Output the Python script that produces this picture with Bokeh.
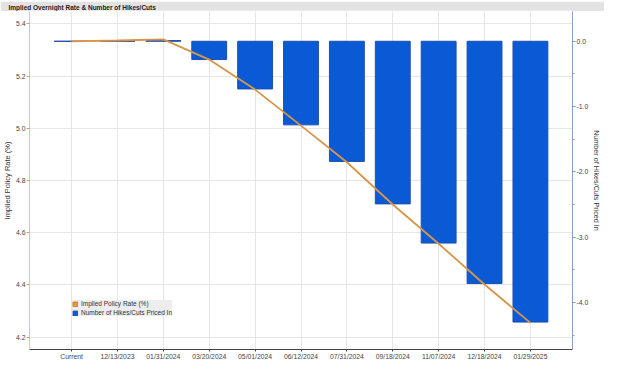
import numpy as np
from bokeh.plotting import figure
from bokeh.models import (Range1d, LinearAxis, FixedTicker, SingleIntervalTicker,
                          PrintfTickFormatter, Legend, LegendItem, ColumnDataSource)
from bokeh.layouts import column
from bokeh.embed import file_html
from bokeh.resources import INLINE

# ---------------- data ----------------
title_text = "Implied Overnight Rate & Number of Hikes/Cuts"
meetings = ["Current", "12/13/2023", "01/31/2024", "03/20/2024", "05/01/2024", "06/12/2024",
            "07/31/2024", "09/18/2024", "11/07/2024", "12/18/2024", "01/29/2025"]
implied_rate = [5.333, 5.336, 5.340, 5.263, 5.148, 5.010, 4.870, 4.708, 4.558, 4.402, 4.255]
hikes_cuts = [0.0, 0.0, 0.01, -0.28, -0.73, -1.28, -1.84, -2.49, -3.09, -3.71, -4.30]
rate_ticks = [4.2, 4.4, 4.6, 4.8, 5.0, 5.2, 5.4]
hike_ticks = [0.0, -1.0, -2.0, -3.0, -4.0]
rate_label = "Implied Policy Rate (%)"
hikes_label = "Number of Hikes/Cuts Priced In"

# ---------------- styles ----------------
FONT = "Liberation Sans"
ORANGE = "#e99a3c"
BLUE = "#0a5ad6"
BLUE_EDGE = "#1d4fae"
GRID = "#e6e6e6"
BAND = "#e3e3e3"

n = len(meetings)
xs = list(range(n))
rate_lo, rate_hi = 4.153, 5.447
anchor = implied_rate[0]

src = ColumnDataSource(dict(x=xs, rate=implied_rate, hikes=hikes_cuts))

# title band
band = figure(width=604, height=11, output_backend="svg", toolbar_location=None,
              title=title_text, x_axis_type=None, y_axis_type=None, min_border=0,
              background_fill_color=BAND, border_fill_color=BAND, outline_line_color=None)
band.x_range = Range1d(0, 1)
band.y_range = Range1d(0, 1)
band.title.align = "left"
band.title.offset = -21
band.title.standoff = 0
band.title.text_font = FONT
band.title.text_font_size = "6.5px"
band.title.text_font_style = "bold"
band.title.text_color = "#222222"

# main plot
p = figure(width=604, height=351, output_backend="svg", toolbar_location=None,
           x_range=Range1d(-0.917, n - 1 + 0.917), y_range=Range1d(rate_lo, rate_hi),
           min_border_left=23, min_border_right=28, min_border_top=0, min_border_bottom=11,
           background_fill_color="white", border_fill_color="white")
p.outline_line_color = None
p.extra_y_ranges = {"hikes": Range1d((rate_lo - anchor) * 4, (rate_hi - anchor) * 4)}

bars = p.vbar(x="x", top="hikes", bottom=0, width=0.76, source=src, y_range_name="hikes",
              fill_color=BLUE, line_color=BLUE_EDGE, line_width=1)
p.line("x", "rate", source=src, line_color=ORANGE, line_width=1.8)
p.line("x", "rate", source=src, line_color="#a08a74", line_width=0.6, line_alpha=0.8)

dummy = p.vbar(x=np.array([np.nan]), top=np.array([np.nan]), width=0.5,
               fill_color=ORANGE, line_color="#c77a1f")

# grids
p.xgrid.ticker = FixedTicker(ticks=xs)
p.ygrid.ticker = FixedTicker(ticks=rate_ticks)
p.grid.grid_line_color = GRID
p.grid.grid_line_width = 1

# bottom axis
xa = p.xaxis[0]
xa.ticker = FixedTicker(ticks=xs)
xa.major_label_overrides = {i: m for i, m in enumerate(meetings)}
xa.axis_line_color = "#444444"
xa.major_tick_line_color = "#444444"
xa.major_tick_out = 2
xa.major_tick_in = 0
xa.minor_tick_line_color = None
xa.major_label_standoff = 1
xa.major_label_text_font = FONT
xa.major_label_text_font_size = "6.8px"
xa.major_label_text_color = "#444444"

# left axis
ya = p.yaxis[0]
ya.ticker = FixedTicker(ticks=rate_ticks)
ya.formatter = PrintfTickFormatter(format="%.1f")
ya.axis_label = rate_label
ya.axis_label_text_font = FONT
ya.axis_label_text_font_size = "7.5px"
ya.axis_label_text_font_style = "normal"
ya.axis_label_text_color = "#333333"
ya.axis_label_standoff = 1
ya.axis_line_color = "#f3c27c"
ya.major_tick_line_color = "#e0a050"
ya.major_tick_out = 3
ya.major_tick_in = 0
ya.minor_tick_line_color = None
ya.major_label_standoff = 1
ya.major_label_text_font = FONT
ya.major_label_text_font_size = "6.8px"
ya.major_label_text_color = "#444444"

# right axis
ra = LinearAxis(y_range_name="hikes", axis_label=hikes_label,
                ticker=SingleIntervalTicker(interval=1, num_minor_ticks=2),
                formatter=PrintfTickFormatter(format="%.1f"))
ra.axis_label_text_font = FONT
ra.axis_label_text_font_size = "7.2px"
ra.axis_label_text_font_style = "normal"
ra.axis_label_text_color = "#333333"
ra.axis_label_standoff = 1
ra.axis_line_color = "#8d9fc4"
ra.major_tick_line_color = "#6a7fa8"
ra.minor_tick_line_color = "#8d9fc4"
ra.major_tick_out = 3
ra.major_tick_in = 0
ra.minor_tick_out = 2
ra.minor_tick_in = 0
ra.major_label_standoff = 1
ra.major_label_text_font = FONT
ra.major_label_text_font_size = "6.8px"
ra.major_label_text_color = "#444444"
p.add_layout(ra, "right")

legend = Legend(items=[LegendItem(label=rate_label, renderers=[dummy]),
                       LegendItem(label=hikes_label, renderers=[bars])],
                location=(43, 33), orientation="vertical",
                label_text_font=FONT, label_text_font_size="6.5px", label_text_color="#333333",
                glyph_width=6, glyph_height=6, label_height=6, spacing=2, padding=3, margin=0,
                label_standoff=3, background_fill_color="#ededed", background_fill_alpha=1,
                border_line_color=None)
p.add_layout(legend)

layout = column(band, p, spacing=0)
open("out.html", "w").write(file_html(layout, INLINE))
